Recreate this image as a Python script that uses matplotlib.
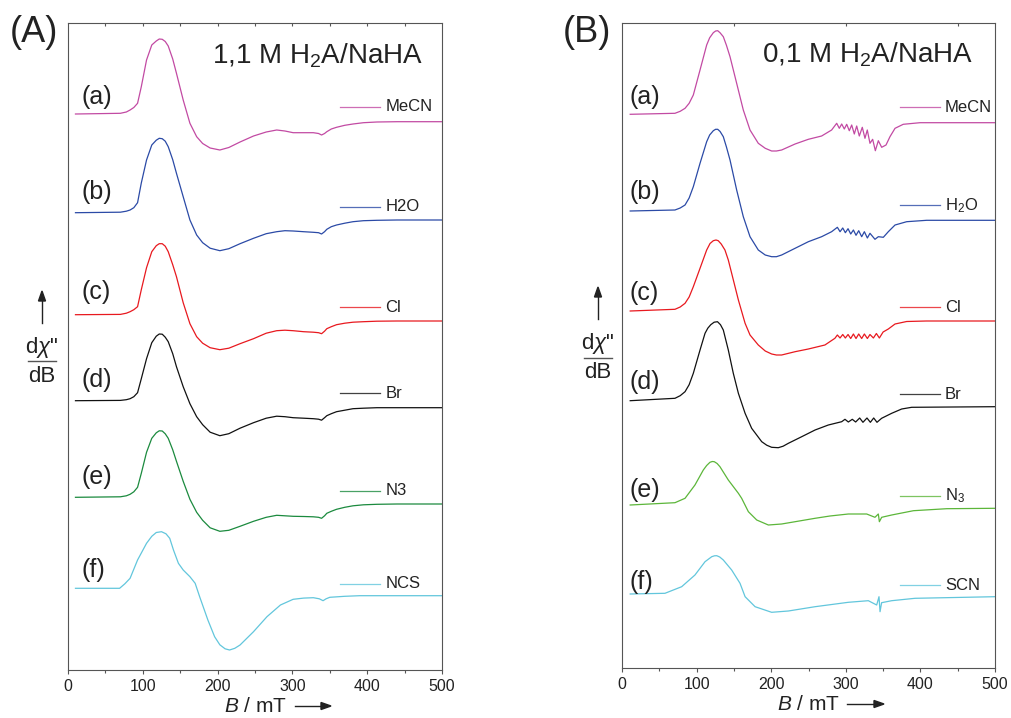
import matplotlib
matplotlib.use("Agg")
import matplotlib.pyplot as plt
from matplotlib.lines import Line2D

plt.rcParams["font.family"] = ["Liberation Sans", "DejaVu Sans"]
plt.rcParams["mathtext.fontset"] = "custom"
plt.rcParams["mathtext.rm"] = "Liberation Sans"
plt.rcParams["mathtext.it"] = "Liberation Sans:italic"
plt.rcParams["mathtext.bf"] = "Liberation Sans:bold"

W, H = 1011, 718

# ---- panel A: 1,1 M H2A/NaHA (signal, px units) ----
B_A = [10, 70, 78, 83, 88, 93, 98, 105, 112, 118,
       122, 126, 130, 134, 140, 145, 154, 163, 172, 180,
       190, 203, 215, 230, 248, 265, 279, 290, 301, 315,
       328, 335, 339, 343, 346, 352, 359, 370, 381, 395,
       413, 440, 500]
A_mecn = [0, 0.7, 2, 4, 6.5, 10.7, 27.3, 54, 69, 73,
          75, 74.7, 72.5, 68, 55, 40.7, 14, -9.3, -22.7, -29.5,
          -34, -36, -33.5, -28, -22, -18, -16, -17, -18.7, -18.7,
          -18.7, -19.5, -21, -19.5, -17.7, -15, -13.3, -11.3, -10, -8.7,
          -8, -7.7, -7.7]
A_h2o = [0, 0.5, 1.5, 2.7, 5, 10, 29.7, 52.7, 67.7, 72.5,
         74.4, 74, 71.5, 66, 53, 39.4, 16, -7.3, -22.3, -30,
         -35.5, -38, -36, -31, -25.6, -21, -19, -18, -18.3, -19,
         -19.6, -20, -21.3, -19, -16.6, -14, -12.3, -10.5, -9, -8,
         -7.6, -7.3, -7.3]
A_cl = [0, 0.3, 1.5, 3, 5, 8, 25, 47, 63, 69,
        71, 71, 68.5, 63, 50, 38, 12, -9, -22, -28.5,
        -33, -35, -33.5, -29, -24, -18.5, -16, -15.5, -16, -17,
        -17.5, -18, -19, -16.5, -14, -12, -10, -8.5, -7.5, -7,
        -6.5, -6.3, -6.3]
A_br = [0, 0.3, 1, 2, 4, 8, 22, 42, 58, 64.5,
        66.7, 66.5, 63.5, 59, 47, 34, 14, -3, -16, -24,
        -31.5, -35, -33, -27.5, -22, -17.5, -15.5, -16, -17, -17.5,
        -18, -18.5, -19.5, -17, -15, -13, -11, -9.5, -8, -7.5,
        -7, -7, -7]
A_n3 = [0, 0.5, 1.5, 3, 5.5, 10, 24, 45, 59, 64.5,
        66.5, 66.3, 63.5, 59, 47.5, 36, 16, -2, -15, -23,
        -30.5, -34, -33, -29, -24, -20, -18, -18.5, -19, -19.2,
        -19.5, -20, -21, -18.5, -16, -14, -12, -10, -8.5, -7.5,
        -7, -6.7, -6.7]
B_A_ncs = [10, 69, 76, 83, 93, 105, 112, 118, 125, 131,
           136, 141, 147.6, 154, 163, 170, 176, 187, 196, 203,
           210, 216, 223, 230, 248, 266, 284, 301, 315, 328,
           336, 341, 345, 350, 370, 390, 500]
A_ncs = [0, 0, 4.5, 10, 28.3, 45, 52, 55.8, 56.6, 54.5,
         50, 38.3, 25, 18.3, 11.6, 5, -8.4, -31.7, -48.4, -56.5,
         -60.5, -61.7, -60, -56.7, -43.4, -28.4, -16.7, -11, -9.8, -9.4,
         -10.5, -12.4, -10.5, -9, -8, -7.4, -7.4]

# ---- panel B: 0,1 M H2A/NaHA ----
B_B_mecn = [11, 71, 78, 84.5, 90, 95.6, 104.6, 113.5, 117.5, 122.4,
            125.5, 128.3, 131.5, 135.8, 140, 144.8, 153.7, 162.6, 171.6, 182.7,
            192, 200.6, 207, 214, 232, 249.8, 267.6, 281, 287.8, 291.3,
            294.5, 298, 301.2, 304.7, 307.9, 311.4, 314.6, 318.1, 322.1, 325.7,
            328.8, 332.4, 336, 339.6, 343.6, 348.1, 353.9, 359.2, 366, 377,
            399.5, 500]
B_mecn = [0, 1, 3, 6, 11, 19.3, 44.3, 69.3, 76.5, 81.6,
          83.3, 83.6, 81.5, 77.6, 69, 57.6, 31, 4.3, -15.7, -29,
          -34, -36.7, -36.7, -35.7, -29.7, -25, -21.7, -15.7, -9, -14,
          -9.7, -14.7, -10, -16.4, -10.7, -19.7, -11.7, -21.7, -13, -24,
          -15.7, -29, -25, -36.4, -26.4, -33, -30.7, -22.4, -14, -10,
          -8.4, -8.4]
B_B_h2o = [11, 71, 78, 84.5, 90, 95.6, 104.6, 113.5, 117.5, 122.4,
           125.5, 128.3, 131.5, 135.8, 140, 144.8, 153.7, 162.6, 171.6, 182.7,
           192, 200.6, 207, 214, 232, 249.8, 267.6, 281, 288.7, 292.3,
           295.9, 299.4, 303, 306.6, 310.2, 313.7, 317.3, 321.3, 324.9, 328.9,
           332.4, 339.1, 343.6, 350.3, 357, 366, 381.6, 408.4, 500]
B_h2o = [0, 1, 3, 6, 13, 24.3, 47.7, 69.3, 76, 80.3,
         81.7, 81.7, 79.5, 74.3, 64, 51, 21, -5.7, -25.7, -39,
         -44, -45.7, -45.7, -44, -37.3, -30.7, -25.7, -20.7, -16.3, -20.7,
         -17, -21.7, -17.7, -23, -19, -24.3, -19.7, -25.7, -20.7, -27,
         -22.3, -28.3, -25.7, -26.3, -20.7, -14, -10.7, -9.3, -9.3]
B_B_cl = [11, 71, 78, 84.5, 90, 95.6, 104.6, 113.5, 118, 122.4,
          126, 129, 133, 138, 142.5, 147, 156, 165, 171.6, 182.7,
          192, 200.6, 207, 214, 232, 249.8, 272, 285.4, 288.7, 292.3,
          295.9, 299.4, 303, 306.6, 310.2, 313.7, 317.3, 321.3, 324.9, 328.9,
          332.4, 337, 341, 345, 350, 357, 366, 381.6, 408, 500]
B_cl = [0, 1.7, 4, 7.7, 14, 24.3, 42.7, 61, 67.5, 70.3,
        71, 70.3, 67, 61, 51, 37.7, 11, -12.3, -24, -34,
        -40, -43, -44, -44, -40.7, -38, -34, -27.3, -24, -27,
        -23.5, -27, -23.5, -27.5, -23, -27.5, -23, -27.5, -23, -27.5,
        -23.5, -27, -22.5, -27, -21, -18, -13, -10.5, -10, -10]
B_B_br = [11, 71, 78, 84.5, 90, 95.6, 104.6, 111.3, 115, 119,
          123.5, 128, 132, 135.8, 142.5, 149.2, 156, 165, 173.8, 187.3,
          194, 200.6, 209.5, 216, 223, 240.9, 258.8, 276.6, 294.5, 298.9,
          303.4, 308.7, 313.2, 318.6, 323, 328.4, 332.9, 337.4, 341.8, 348,
          361.5, 374.9, 388.3, 500]
B_br = [0, 2.4, 5, 9, 16, 27.4, 50.7, 67.4, 72.5, 76,
        78.5, 79, 76, 70.7, 50.7, 27.4, 7.4, -12.6, -27.6, -41,
        -44.5, -46.6, -47, -45.5, -42.6, -36, -29.3, -24.3, -21, -18.6,
        -21.3, -18.6, -21.3, -17.3, -21.6, -17.3, -21.6, -17.3, -21.6, -17.6,
        -12.6, -8.3, -6.6, -6]
B_B_n3 = [11, 71, 84.5, 97.8, 109, 113.5, 117.9, 121, 123.7, 127.5,
          131.3, 142.5, 156, 160.4, 169.4, 180.6, 196.2, 214, 258.8, 278.8,
          303.4, 328, 339.1, 343.6, 345, 348.1, 361.5, 390.7, 435.4, 500]
B_n3 = [0, 2.3, 6.7, 20, 35, 39.5, 42.7, 43.5, 43.3, 41.5,
        38.3, 25, 11.7, 6.7, -6.7, -15, -20, -19, -13.3, -11,
        -9, -9, -12.3, -9, -16.7, -12.3, -10, -5.7, -3.7, -3.3]
B_B_scn = [11, 57.6, 80, 97.8, 111.3, 120.3, 124, 127, 131, 135.8,
           147, 158.2, 165, 178.4, 200.6, 223, 258.8, 303.4, 330.2, 341.4,
           344.5, 345.9, 348, 361.5, 392.8, 500]
B_scn = [0, 0.7, 7.3, 19, 32.3, 37.3, 38.2, 38.3, 37, 34,
         24, 10.7, -2.7, -12.7, -18.3, -17, -12.7, -8.3, -6.7, -11,
         -2.7, -17.7, -8.7, -6.7, -4.3, -2.7]

LETTERS = ["(a)", "(b)", "(c)", "(d)", "(e)", "(f)"]
NAMES_A = ["MeCN", "H2O", "Cl", "Br", "N3", "NCS"]
NAMES_B = ["MeCN", "H$_2$O", "Cl", "Br", "N$_3$", "SCN"]

COLORS_A = ["#c24aa3", "#2b4aa6", "#e8191f", "#111111", "#1b8a3e", "#62c6dc"]
COLORS_B = ["#c24aa3", "#2b4aa6", "#e8191f", "#111111", "#5cb63a", "#62c6dc"]


def fig_xy(px, py):
    return px / W, 1 - py / H


def draw_panel(ax, series, names, colors, offsets, leg_y, let_y, let_x, leg_x, height, top_ticks):
    for (b, v), name, col, off, ly, ty, let in zip(series, names, colors, offsets, leg_y, let_y, LETTERS):
        ax.plot(b, [off + s for s in v], color=col, lw=0.9)
        ax.plot(leg_x[:2], [ly, ly], color=col, lw=0.9, alpha=0.8)
        ax.text(leg_x[2], ly, name, fontsize=12, va="center", ha="left", color="#222222")
        ax.text(let_x, ty, let, fontsize=18, va="center", ha="left", color="#222222")
    ax.set_xlim(0, 500)
    ax.set_ylim(0, height)
    ax.set_yticks([])
    ax.set_xticks(range(0, 501, 100))
    ax.set_xticks(range(50, 500, 100), minor=True)
    ax.tick_params(axis="x", which="major", direction="out", length=3, width=0.8,
                   pad=3.5, labelsize=11.5, color="#555555", labelcolor="#222222")
    ax.tick_params(axis="x", which="minor", direction="out", length=2, width=0.8, color="#555555")
    for sp in ax.spines.values():
        sp.set_color("#555555")
        sp.set_linewidth(0.8)
    top = ax.secondary_xaxis("top")
    top.set_xticks(top_ticks)
    top.tick_params(direction="in", length=2.5, width=0.8, labeltop=False, color="#555555")
    top.spines["top"].set_visible(False)


fig = plt.figure(figsize=(W / 100, H / 100), dpi=100)

axA = fig.add_axes([68 / W, 1 - 670 / H, 374 / W, 647 / H])
draw_panel(axA,
           [(B_A, A_mecn), (B_A, A_h2o), (B_A, A_cl), (B_A, A_br), (B_A, A_n3), (B_A_ncs, A_ncs)],
           NAMES_A, COLORS_A,
           offsets=[556, 457.3, 355.3, 269.3, 172.7, 81.7],
           leg_y=[563.3, 463.3, 362.7, 276.7, 179.3, 86],
           let_y=[573.3, 478.3, 378.3, 290, 193.3, 100],
           let_x=18.7, leg_x=[363.6, 417, 424], height=647,
           top_ticks=list(range(50, 500, 50)))
axA.text(192.5, 606.7, "1,1 M H$_2$A/NaHA", fontsize=20, va="baseline", ha="left", color="#222222")

axB = fig.add_axes([622 / W, 1 - 668 / H, 373 / W, 645 / H])
draw_panel(axB,
           [(B_B_mecn, B_mecn), (B_B_h2o, B_h2o), (B_B_cl, B_cl), (B_B_br, B_br),
            (B_B_n3, B_n3), (B_B_scn, B_scn)],
           NAMES_B, COLORS_B,
           offsets=[553.7, 457, 357, 267.3, 163, 74],
           leg_y=[560.7, 462.7, 360.7, 273.7, 172, 83],
           let_y=[571.3, 476.3, 374.7, 286.3, 178, 86.3],
           let_x=10.7, leg_x=[372.7, 426.3, 433], height=645,
           top_ticks=[150, 300, 450])
axB.text(187.3, 605.3, "0,1 M H$_2$A/NaHA", fontsize=20, va="baseline", ha="left", color="#222222")

# panel letters
fig.text(*fig_xy(10, 33), "(A)", fontsize=26, va="center", ha="left", color="#222222")
fig.text(*fig_xy(563, 33), "(B)", fontsize=26, va="center", ha="left", color="#222222")

# x labels with arrows
for x_txt, x0, x1, y_arr in [(224, 295, 331, 706), (777, 847, 884, 704)]:
    fig.text(*fig_xy(x_txt, y_arr + 1), "$B$ / mT", fontsize=15, va="center", ha="left", color="#222222")
    fig.add_artist(Line2D([x0 / W, (x1 - 9) / W], [1 - y_arr / H] * 2, color="#222222", lw=1))
    fig.patches.append(plt.Polygon([fig_xy(x1 - 10, y_arr - 3.5), fig_xy(x1 - 10, y_arr + 3.5), fig_xy(x1, y_arr)],
                                   closed=True, color="#222222", transform=fig.transFigure, figure=fig))

# y labels: arrow + dchi''/dB
for xc, dy in [(42, 0), (598, -4)]:
    fig.add_artist(Line2D([xc / W] * 2, [1 - (323 + dy) / H, 1 - (300 + dy) / H], color="#222222", lw=1))
    fig.patches.append(plt.Polygon([fig_xy(xc - 3.5, 301 + dy), fig_xy(xc + 3.5, 301 + dy), fig_xy(xc, 291 + dy)],
                                   closed=True, color="#222222", transform=fig.transFigure, figure=fig))
    fig.text(*fig_xy(xc, 348 + dy), "d$\\chi$\"", fontsize=16, va="center", ha="center", color="#222222")
    fig.add_artist(Line2D([(xc - 14) / W, (xc + 14) / W], [1 - (361.5 + dy) / H] * 2, color="#555555", lw=1))
    fig.text(*fig_xy(xc, 377 + dy), "dB", fontsize=16, va="center", ha="center", color="#222222")

fig.savefig("out.png", dpi=100)
